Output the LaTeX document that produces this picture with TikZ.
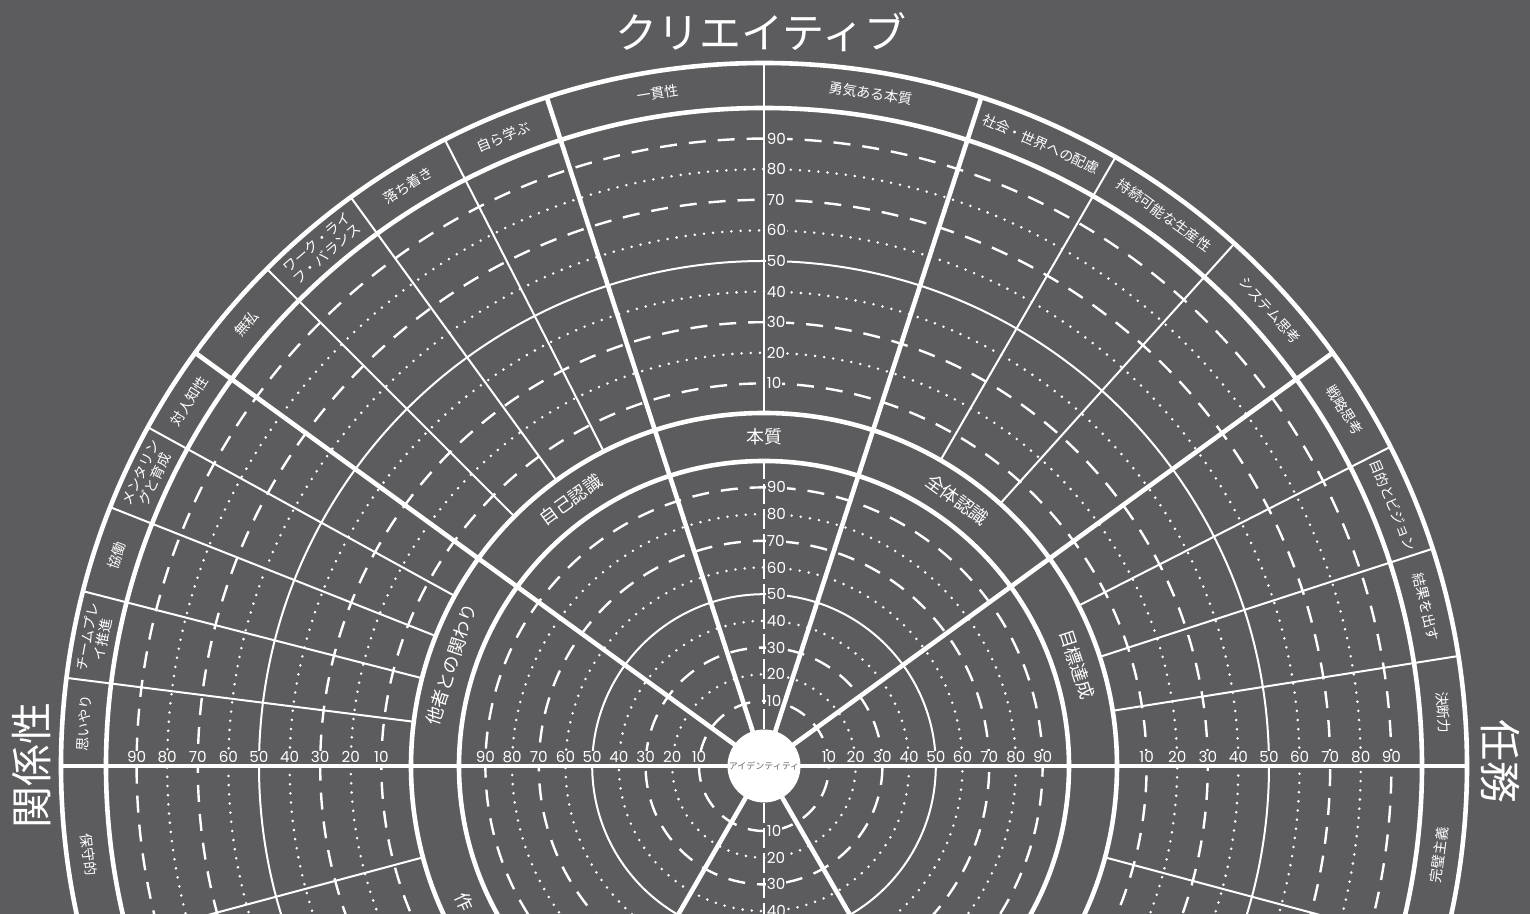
\documentclass[tikz,border=0pt]{standalone}
\usepackage{fontspec}
\setmainfont{Noto Sans CJK JP}
\newfontfamily\numfont{Poppins}
\definecolor{chartbg}{RGB}{92,92,95}
\definecolor{idtext}{RGB}{105,105,108}
\tikzset{
  bold ring/.style={draw=white,line width=2.3pt},
  thin ring/.style={draw=white,line width=1pt},
  dash ring/.style={draw=white,line width=1.2pt,dash pattern=on 8.5pt off 6pt},
  dot ring/.style={draw=white,line width=1.4pt,line cap=round,dash pattern=on 0pt off 4.6pt},
  axis dash/.style={draw=white,line width=1pt,dash pattern=on 10pt off 2.5pt},
  scale num/.style={font=\numfont\fontsize{7.6}{8}\selectfont,text=white,fill=chartbg,inner sep=0.5pt},
  trait/.style={font=\fontsize{7}{7.6}\selectfont,text=white,align=center,inner sep=0pt},
  areatext/.style={font=\fontsize{9}{10}\selectfont,text=white,inner sep=0pt},
  poletext/.style={font=\fontsize{21}{22}\selectfont,text=white,inner sep=0pt}
}

\begin{document}
\begin{tikzpicture}[x=0.5pt,y=0.5pt]
  \fill[chartbg] (-764,-148) rectangle (766,766);
  \useasboundingbox (-764,-148) rectangle (766,766);
  \clip (-764,-148) rectangle (766,766);

  % inner scale (0 .. 100 from r=38 to r=305)
  \foreach \v in {10,30,70,90} \draw[dash ring] (0,0) circle[radius={38.3+2.67*\v}];
  \foreach \v in {20,40,60,80} \draw[dot ring] (0,0) circle[radius={38.3+2.67*\v}];
  \draw[thin ring] (0,0) circle[radius=171.8];

  % outer scale (0 .. 100 from r=352 to r=658)
  \foreach \v in {10,30,70,90} \draw[dash ring] (0,0) circle[radius={352+3.06*\v}];
  \foreach \v in {20,40,60,80} \draw[dot ring] (0,0) circle[radius={352+3.06*\v}];
  \draw[thin ring] (0,0) circle[radius=505];

  % scale numbers
  \foreach \v in {10,20,...,90} {
    \node[scale num,anchor=base] (il\v) at ({-(38.3+2.67*\v)},3) {\v};
    \node[scale num,anchor=base] (ir\v) at ({38.3+2.67*\v},3) {\v};
    \node[scale num,anchor=base] (ol\v) at ({-(352+3.06*\v)},3) {\v};
    \node[scale num,anchor=base] (or\v) at ({352+3.06*\v},3) {\v};
    \node[scale num,anchor=west] (it\v) at (1.5,{38.3+2.67*\v}) {\v};
    \node[scale num,anchor=west] (ot\v) at (1.5,{352+3.06*\v}) {\v};
  }
  \foreach \v in {10,20,30,40}
    \node[scale num,anchor=west] (ib\v) at (1.5,{-(38.3+2.67*\v)}) {\v};

  % axis lines of the inner chart
  \draw[axis dash] (90:37) -- (90:305);
  \draw[axis dash] (270:37) -- (270:305);

  % sub-sector lines of the outer chart
  \foreach \a in {9,18,27,48,60,90,117,126,135,151.2,158.4,165.6,172.8,195,345}
    \draw[thin ring] (\a:353) -- (\a:703);

  % sector lines and rings
  \foreach \a in {36,72,108,144,240,300}
    \draw[bold ring] (\a:0) -- (\a:703);
  \draw[bold ring] (180:703) -- (0:703);
  \foreach \r in {305,353,658,703}
    \draw[bold ring] (0,0) circle[radius=\r];

  % trait labels
  \foreach \a/\t [count=\i] in {99/一貫性, 81/勇気ある本質, 112.5/自ら学ぶ, 121.5/落ち着き,
      130.5/{ワーク・ライ\\フ・バランス}, 139.5/無私, 147.6/対人知性,
      154.8/{メンタリン\\グと育成}, 162/協働, 169.2/{チームプレ\\イ推進}, 176.4/思いやり,
      66/社会・世界への配慮, 54/持続可能な生産性, 42/システム思考,
      31.5/戦略思考, 22.5/目的とビジョン, 13.5/結果を出す, 4.5/決断力}
    \node[trait,rotate=\a-90] (trait\i) at (\a:681) {\t};
  \node[trait,rotate=-82.5] (hoshu) at (187.5:681) {保守的};
  \node[trait,rotate=82.5] (kanpeki) at (352.5:681) {完璧主義};

  % area labels
  \node[areatext] (honshitsu) at (90:329) {本質};
  \node[areatext,rotate=36] (jiko) at (126:329) {自己認識};
  \node[areatext,rotate=-36] (zentai) at (54:329) {全体認識};
  \node[areatext,rotate=-72] (mokuhyo) at (18:329) {目標達成};
  \node[areatext,rotate=72] (tasha) at (162:329) {他者との関わり};
  \node[areatext,rotate=-65.6] (saku) at (204.4:329) {作};

  % centre
  \node[circle,fill=white,minimum size=36.5pt,inner sep=0pt,
    font=\fontsize{4.5}{5}\selectfont,text=idtext] (identity) at (0,0) {アイデンティティ};

  % poles
  \node[poletext] (creative) at (-3,734) {クリエイティブ};
  \node[poletext,rotate=90] (relation) at (-732,0) {関係性};
  \node[poletext,rotate=-90] (task) at (736,4) {任務};
\end{tikzpicture}
\end{document}
